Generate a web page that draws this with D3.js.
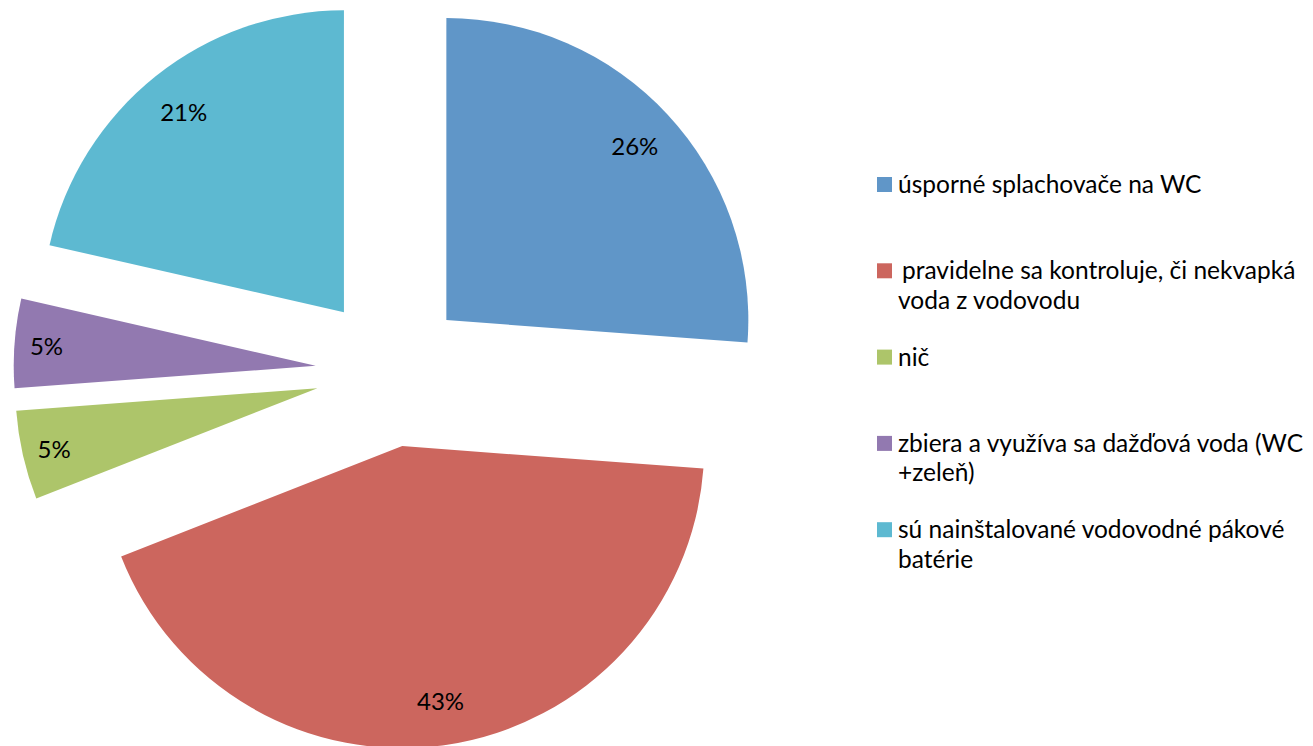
<!DOCTYPE html>
<html>
<head>
<meta charset="utf-8">
<script src="https://cdn.jsdelivr.net/npm/d3@7"></script>
<style>
  html, body { margin: 0; padding: 0; background: #fff; }
  svg { display: block; }
  text { font-family: Lato, "Open Sans", sans-serif; fill: #000; }
</style>
</head>
<body>
<svg id="chart" width="1313" height="746"></svg>
<script>
// ---- data ----
const categories = [
  "úsporné splachovače na WC",
  "pravidelne sa kontroluje, či nekvapká voda z vodovodu",
  "nič",
  "zbiera a využíva sa dažďová voda (WC +zeleň)",
  "sú nainštalované vodovodné pákové batérie"
];
const values = [11, 18, 2, 2, 9];
const colors = ["#6096C8", "#CC665E", "#ADC56A", "#9279B0", "#5DB9D1"];

// ---- layout ----
const svg = d3.select("#chart");
const cx = 391, cy = 371.4, radius = 302, explode = 75.5;
const labelSize = 24, legendSize = 24.5;

const data = categories.map((c, i) => ({ name: c, value: values[i], color: colors[i] }));
const total = d3.sum(values);

const pie = d3.pie().sort(null).value(d => d.value).startAngle(0).endAngle(2 * Math.PI);
const arc = d3.arc().innerRadius(0).outerRadius(radius);
const arcs = pie(data);

const g = svg.append("g").attr("transform", `translate(${cx},${cy})`);

const slice = g.selectAll("g.slice").data(arcs).enter().append("g")
  .attr("class", "slice")
  .attr("transform", d => {
    const a = (d.startAngle + d.endAngle) / 2;
    return `translate(${explode * Math.sin(a)},${-explode * Math.cos(a)})`;
  });

slice.append("path").attr("d", arc).attr("fill", d => d.data.color);

slice.append("text")
  .attr("transform", d => {
    const a = (d.startAngle + d.endAngle) / 2;
    const lr = (d.data.value / total < 0.1) ? 270 : 257;
    return `translate(${lr * Math.sin(a)},${-lr * Math.cos(a)})`;
  })
  .attr("text-anchor", "middle")
  .attr("dominant-baseline", "central")
  .style("font-size", labelSize + "px")
  .text(d => d3.format(".0%")(d.data.value / total));

// ---- legend ----
const legend = svg.append("g");
const lx = 877, tx = 898, baseY = 193, step = 86.3, lineH = 29.5, maxW = 412;

data.forEach((d, i) => {
  const y0 = baseY + i * step;
  const x0 = tx + (i === 1 ? 4 : 0);
  legend.append("rect")
    .attr("x", lx).attr("y", y0 - 16).attr("width", 15).attr("height", 15)
    .attr("fill", d.color);
  const t = legend.append("text")
    .attr("x", x0).attr("y", y0)
    .style("font-size", legendSize + "px");
  const words = d.name.split(" ");
  let line = [];
  let ts = t.append("tspan").attr("x", x0).attr("dy", 0);
  words.forEach(w => {
    line.push(w);
    ts.text(line.join(" "));
    if (ts.node().getComputedTextLength() > maxW - (x0 - tx) && line.length > 1) {
      line.pop();
      ts.text(line.join(" "));
      line = [w];
      ts = t.append("tspan").attr("x", tx).attr("dy", lineH).text(w);
    }
  });
});
</script>
</body>
</html>
